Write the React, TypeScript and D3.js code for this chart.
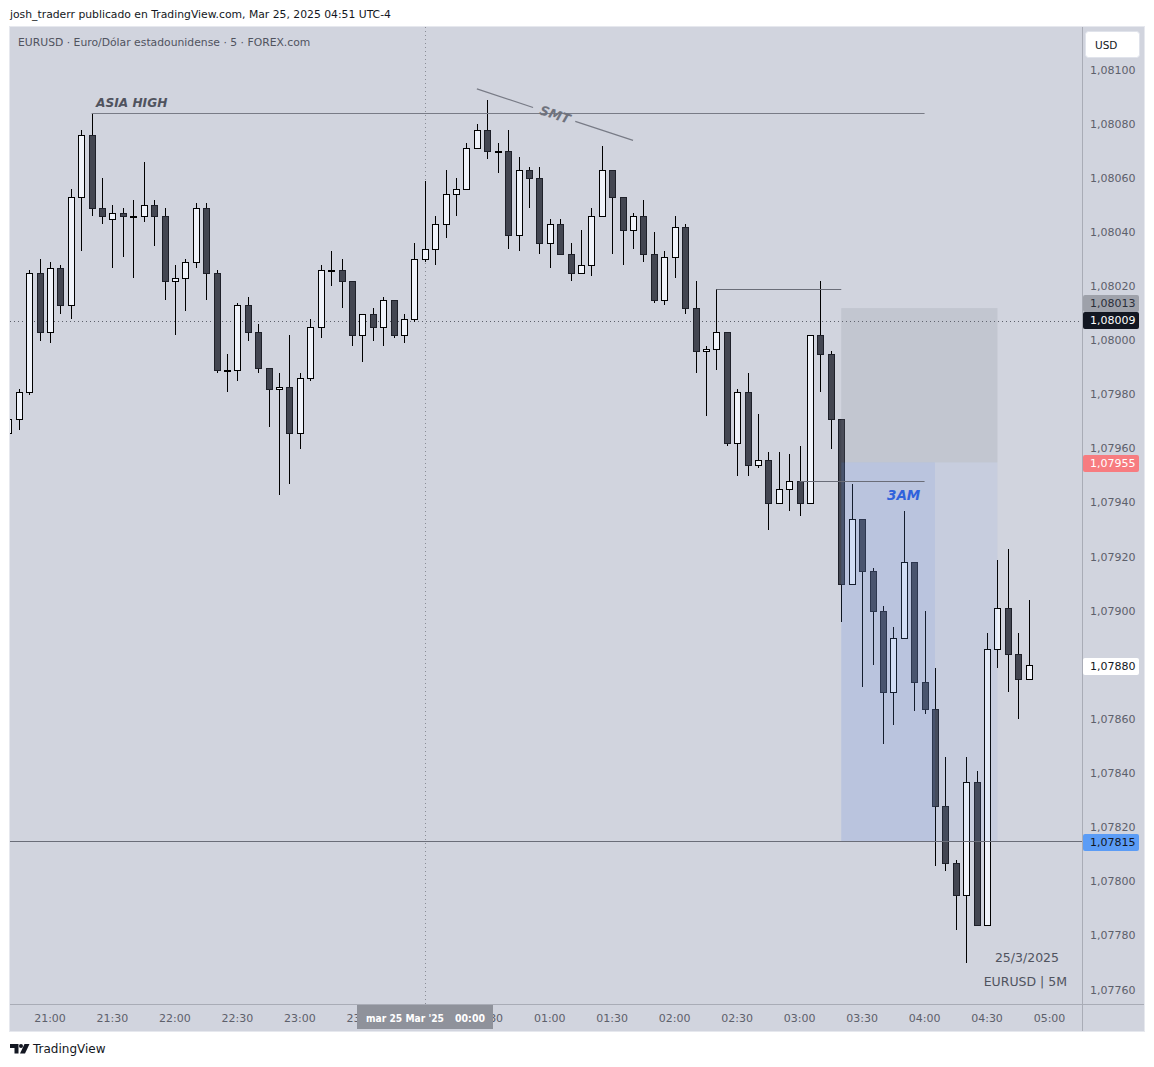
import React from 'react';
import * as d3 from 'd3';

// ---------- DATA ----------
const firstBarTime = new Date(2025, 2, 24, 20, 40); // first (partially visible) 5-minute bar
const opens = [
  1.07966, 1.07971, 1.07981, 1.08025, 1.08003, 1.08027, 1.08013, 1.08053, 1.08076, 1.08049,
  1.08045, 1.08047, 1.08046, 1.08046, 1.08050, 1.08046, 1.08022, 1.08023, 1.08029, 1.08049,
  1.08025, 1.07989, 1.07989, 1.08013, 1.08003, 1.07990, 1.07982, 1.07983, 1.07966, 1.07986,
  1.08005, 1.08026, 1.08026, 1.08022, 1.08002, 1.08010, 1.08005, 1.08015, 1.08002, 1.08008,
  1.08030, 1.08034, 1.08043, 1.08054, 1.08056, 1.08071, 1.08078, 1.08070, 1.08070, 1.08039,
  1.08063, 1.08060, 1.08036, 1.08043, 1.08032, 1.08025, 1.08028, 1.08046, 1.08063, 1.08053,
  1.08041, 1.08046, 1.08032, 1.08015, 1.08031, 1.08042, 1.08012, 1.07996, 1.07997, 1.08003,
  1.07962, 1.07981, 1.07954, 1.07956, 1.07940, 1.07945, 1.07948, 1.07940, 1.08002, 1.07995,
  1.07971, 1.07910, 1.07934, 1.07915, 1.07900, 1.07870, 1.07890, 1.07918, 1.07874, 1.07864,
  1.07828, 1.07807, 1.07795, 1.07837, 1.07784, 1.07886, 1.07901, 1.07884, 1.07875,
];
const highs = [
  1.07972, 1.07982, 1.08026, 1.08030, 1.08029, 1.08028, 1.08056, 1.08078, 1.08084, 1.08060,
  1.08050, 1.08049, 1.08052, 1.08066, 1.08052, 1.08049, 1.08028, 1.08030, 1.08051, 1.08051,
  1.08026, 1.07995, 1.08014, 1.08016, 1.08006, 1.07990, 1.07988, 1.08002, 1.07988, 1.08008,
  1.08028, 1.08033, 1.08030, 1.08022, 1.08010, 1.08012, 1.08016, 1.08015, 1.08010, 1.08036,
  1.08059, 1.08046, 1.08063, 1.08060, 1.08073, 1.08080, 1.08089, 1.08073, 1.08078, 1.08068,
  1.08064, 1.08064, 1.08045, 1.08045, 1.08036, 1.08041, 1.08049, 1.08072, 1.08063, 1.08053,
  1.08047, 1.08052, 1.08040, 1.08033, 1.08046, 1.08043, 1.08022, 1.07998, 1.08019, 1.08003,
  1.07982, 1.07988, 1.07973, 1.07959, 1.07959, 1.07958, 1.07961, 1.08002, 1.08022, 1.07996,
  1.07971, 1.07947, 1.07934, 1.07916, 1.07902, 1.07894, 1.07937, 1.07918, 1.07900, 1.07879,
  1.07846, 1.07808, 1.07846, 1.07841, 1.07892, 1.07919, 1.07923, 1.07892, 1.07904,
];
const lows = [
  1.07963, 1.07967, 1.07980, 1.08000, 1.07999, 1.08010, 1.08008, 1.08033, 1.08046, 1.08043,
  1.08027, 1.08031, 1.08023, 1.08044, 1.08035, 1.08015, 1.08002, 1.08011, 1.08027, 1.08015,
  1.07988, 1.07981, 1.07985, 1.08000, 1.07988, 1.07968, 1.07943, 1.07947, 1.07960, 1.07985,
  1.08001, 1.08020, 1.08012, 1.07998, 1.07992, 1.08000, 1.07998, 1.08001, 1.07999, 1.08007,
  1.08029, 1.08028, 1.08038, 1.08046, 1.08056, 1.08071, 1.08067, 1.08062, 1.08034, 1.08033,
  1.08049, 1.08032, 1.08027, 1.08032, 1.08022, 1.08025, 1.08024, 1.08046, 1.08032, 1.08028,
  1.08034, 1.08029, 1.08014, 1.08013, 1.08023, 1.08010, 1.07988, 1.07972, 1.07989, 1.07961,
  1.07950, 1.07950, 1.07953, 1.07930, 1.07940, 1.07937, 1.07935, 1.07940, 1.07981, 1.07960,
  1.07896, 1.07910, 1.07872, 1.07880, 1.07851, 1.07858, 1.07890, 1.07863, 1.07862, 1.07806,
  1.07804, 1.07782, 1.07770, 1.07784, 1.07784, 1.07879, 1.07870, 1.07860, 1.07875,
];
const closes = [
  1.07971, 1.07981, 1.08025, 1.08003, 1.08027, 1.08013, 1.08053, 1.08076, 1.08049, 1.08046,
  1.08047, 1.08046, 1.08046, 1.08050, 1.08046, 1.08022, 1.08023, 1.08029, 1.08049, 1.08025,
  1.07989, 1.07989, 1.08013, 1.08003, 1.07990, 1.07982, 1.07983, 1.07966, 1.07986, 1.08005,
  1.08026, 1.08026, 1.08022, 1.08002, 1.08010, 1.08005, 1.08015, 1.08002, 1.08008, 1.08030,
  1.08034, 1.08043, 1.08054, 1.08056, 1.08071, 1.08078, 1.08070, 1.08070, 1.08039, 1.08063,
  1.08060, 1.08036, 1.08043, 1.08032, 1.08025, 1.08028, 1.08046, 1.08063, 1.08053, 1.08041,
  1.08046, 1.08032, 1.08015, 1.08031, 1.08042, 1.08012, 1.07996, 1.07997, 1.08003, 1.07962,
  1.07981, 1.07954, 1.07956, 1.07940, 1.07945, 1.07948, 1.07940, 1.08002, 1.07995, 1.07971,
  1.07910, 1.07934, 1.07915, 1.07900, 1.07870, 1.07890, 1.07918, 1.07874, 1.07864, 1.07828,
  1.07807, 1.07795, 1.07837, 1.07784, 1.07886, 1.07901, 1.07884, 1.07875, 1.07880,
];

const priceTicks = [1.0776, 1.0778, 1.078, 1.0782, 1.0784, 1.0786, 1.0788, 1.079, 1.0792, 1.0794, 1.0796, 1.0798, 1.08, 1.0802, 1.0804, 1.0806, 1.0808, 1.081];
const timeTicks = ['21:00', '21:30', '22:00', '22:30', '23:00', '23:30', '25', '00:30', '01:00', '01:30', '02:00', '02:30', '03:00', '03:30', '04:00', '04:30', '05:00'];
const timeTickStart = new Date(2025, 2, 24, 21, 0);

// annotations (bar index, price)
const asiaHigh = { from: 8, to: 88, price: 1.08084 };
const smt = { from: 45, p0: 1.08093, to: 60, p1: 1.08074 };
const level1 = { from: 68, to: 80, price: 1.08019 };
const level3am = { from: 76, to: 88, price: 1.07948 };
const position = { from: 80, mid: 89, to: 95, stop: 1.08012, entry: 1.07955, target: 1.07815 };
const fullLine = 1.07815;
const crosshair = { bar: 40, price: 1.08009 };
const priceLabels = [
  { price: 1.08013, bg: '#9ea1aa', fg: '#2a2e39' },
  { price: 1.08009, bg: '#131722', fg: '#ffffff' },
  { price: 1.07955, bg: '#f77c80', fg: '#ffffff' },
  { price: 1.0788, bg: '#ffffff', fg: '#131722' },
  { price: 1.07815, bg: '#5b9cf6', fg: '#131722' },
];

// ---------- LAYOUT ----------
const W = 1154;
const H = 1067;
const L = 10, R = 1082, T = 27, B = 1004, AXR = 1144, AXB = 1031;
const FONT = '"DejaVu Sans", sans-serif';
const LABEL_H = 17;

const fmt = (p: number) => d3.format('.5f')(p).replace('.', ',');

// push overlapping axis labels apart (like the price scale does)
function layoutLabels(ys: number[]): number[] {
  const idx = ys.map((v, i) => i).sort((a, b) => ys[a] - ys[b]);
  const out = ys.slice();
  for (let k = 1; k < idx.length; k++) {
    const a = idx[k - 1], b = idx[k];
    if (out[b] - out[a] < LABEL_H) {
      const mid = (out[a] + out[b]) / 2;
      out[a] = mid - LABEL_H / 2;
      out[b] = mid + LABEL_H / 2;
    }
  }
  return out;
}

export default function App() {
  const y = d3.scaleLinear().domain([1.0776, 1.081]).range([990, 70]);
  const x = d3
    .scaleTime()
    .domain([timeTickStart, d3.timeMinute.offset(timeTickStart, 480)])
    .range([50, 1049.5]);
  const barTime = (i: number) => d3.timeMinute.offset(firstBarTime, 5 * i);
  const bx = (i: number) => x(barTime(i));

  const bars = opens.map((o, i) => ({ t: barTime(i), o, h: highs[i], l: lows[i], c: closes[i] }));

  const labelYs = layoutLabels(priceLabels.map((lb) => y(lb.price) + 1.2));
  const crossLabelY = labelYs[priceLabels.findIndex((lb) => lb.price === crosshair.price)];

  const smtX0 = bx(smt.from), smtX1 = bx(smt.to);
  const smtY0 = y(smt.p0), smtY1 = y(smt.p1);
  const lerp = (a: number, b: number, t: number) => a + (b - a) * t;
  const smtAngle = (Math.atan2(smtY1 - smtY0, smtX1 - smtX0) * 180) / Math.PI;
  const smtMx = lerp(smtX0, smtX1, 0.5), smtMy = lerp(smtY0, smtY1, 0.5);
  const hy = (p: number) => Math.round(y(p)) + 0.5;

  return (
    <svg width={W} height={H} style={{ display: 'block', position: 'absolute', left: 0, top: 0 }}>
      <rect x={0} y={0} width={W} height={H} fill="#ffffff" />
      <text x={10} y={18} fontFamily={FONT} fontSize={10.8} fill="#131722">
        josh_traderr publicado en TradingView.com, Mar 25, 2025 04:51 UTC-4
      </text>
      <defs>
        <clipPath id="plot">
          <rect x={L} y={T} width={R - L} height={B - T} />
        </clipPath>
      </defs>
      {/* chart frame */}
      <rect x={L - 0.5} y={T - 0.5} width={AXR - L + 1} height={AXB - T + 1} fill="#d1d4de" stroke="#e6e8ee" />
      <line x1={R + 0.5} x2={R + 0.5} y1={T} y2={AXB} stroke="#a9acb6" />
      <line x1={L} x2={AXR} y1={B + 0.5} y2={B + 0.5} stroke="#a9acb6" />

      <text x={18} y={46} fontFamily={FONT} fontSize={10.8} fill="#50535e">
        EURUSD · Euro/Dólar estadounidense · 5 · FOREX.com
      </text>

      <g clipPath="url(#plot)">
        {/* crosshair */}
        <line x1={L} x2={R} y1={Math.round(crossLabelY) + 0.5} y2={Math.round(crossLabelY) + 0.5} stroke="#5d606b" strokeDasharray="1 3" />
        <line x1={Math.round(bx(crosshair.bar)) + 0.5} x2={Math.round(bx(crosshair.bar)) + 0.5} y1={T} y2={B} stroke="#8a8d96" strokeDasharray="1 3" />

        {/* candles */}
        {bars.map((d, i) => {
          const cx = Math.round(bx(i));
          const up = d.c >= d.o;
          const top = Math.round(y(Math.max(d.o, d.c)));
          const bot = Math.round(y(Math.min(d.o, d.c)));
          const bh = Math.max(bot - top, 1);
          return (
            <g key={i}>
              <line x1={cx + 0.5} x2={cx + 0.5} y1={Math.round(y(d.h))} y2={Math.round(y(d.l))} stroke="#000000" />
              <rect
                x={cx - 3 + 0.5}
                y={top + 0.5}
                width={6}
                height={bh}
                fill={up ? '#f0f3fa' : '#434651'}
                stroke={up ? '#000000' : '#1e2029'}
              />
            </g>
          );
        })}

        {/* position tool */}
        <rect x={bx(position.from)} y={y(position.stop)} width={bx(position.to) - bx(position.from)} height={y(position.entry) - y(position.stop)} fill="rgba(120,122,138,0.16)" />
        <rect x={bx(position.from)} y={y(position.entry)} width={bx(position.to) - bx(position.from)} height={y(position.target) - y(position.entry)} fill="rgba(100,140,225,0.09)" />
        <rect x={bx(position.from)} y={y(position.entry)} width={bx(position.mid) - bx(position.from)} height={y(position.target) - y(position.entry)} fill="rgba(100,140,225,0.13)" />

        {/* horizontal levels */}
        <line x1={bx(asiaHigh.from)} x2={bx(asiaHigh.to)} y1={hy(asiaHigh.price)} y2={hy(asiaHigh.price)} stroke="#787b86" />
        <line x1={bx(level1.from)} x2={bx(level1.to)} y1={hy(level1.price)} y2={hy(level1.price)} stroke="#6a6d78" />
        <line x1={bx(level3am.from)} x2={bx(level3am.to)} y1={hy(level3am.price)} y2={hy(level3am.price)} stroke="#6a6d78" />
        <line x1={L} x2={R} y1={hy(fullLine)} y2={hy(fullLine)} stroke="#6a6d78" />

        {/* SMT */}
        <line x1={smtX0} y1={smtY0} x2={lerp(smtX0, smtX1, 0.36)} y2={lerp(smtY0, smtY1, 0.36)} stroke="#787b86" strokeWidth={1.2} />
        <line x1={lerp(smtX0, smtX1, 0.63)} y1={lerp(smtY0, smtY1, 0.63)} x2={smtX1} y2={smtY1} stroke="#787b86" strokeWidth={1.2} />
        <text
          x={smtMx}
          y={smtMy}
          transform={`rotate(${smtAngle} ${smtMx} ${smtMy})`}
          textAnchor="middle"
          dominantBaseline="central"
          fontFamily={FONT}
          fontSize={13}
          fontStyle="italic"
          fontWeight="bold"
          fill="#6f727d"
        >
          SMT
        </text>

        <text x={96} y={107} fontFamily={FONT} fontSize={12.2} fontStyle="italic" fontWeight="bold" fill="#50535e">
          ASIA HIGH
        </text>
        <text x={887} y={500} fontFamily={FONT} fontSize={13.5} fontStyle="italic" fontWeight="bold" fill="#2f62dc">
          3AM
        </text>

        <text x={1059} y={962} textAnchor="end" fontFamily={FONT} fontSize={12.5} fill="#50535e">
          25/3/2025
        </text>
        <text x={1067} y={986} textAnchor="end" fontFamily={FONT} fontSize={12.5} fill="#50535e">
          EURUSD | 5M
        </text>
      </g>

      {/* price axis */}
      {priceTicks.map((p) => (
        <text key={p} x={1090} y={y(p)} dominantBaseline="central" fontFamily={FONT} fontSize={11} fill="#5d606b">
          {fmt(p)}
        </text>
      ))}
      {priceLabels.map((lb, i) => (
        <g key={lb.price}>
          <rect x={R + 1} y={Math.round(labelYs[i] - LABEL_H / 2)} width={56} height={LABEL_H} rx={2} fill={lb.bg} />
          <text x={1090} y={Math.round(labelYs[i] - LABEL_H / 2) + LABEL_H / 2} dominantBaseline="central" fontFamily={FONT} fontSize={11} fill={lb.fg}>
            {fmt(lb.price)}
          </text>
        </g>
      ))}
      <rect x={1085.5} y={31.5} width={54} height={26} rx={3} fill="#ffffff" stroke="#e0e3eb" />
      <text x={1095} y={44.5} dominantBaseline="central" fontFamily={FONT} fontSize={10.5} fill="#131722">
        USD
      </text>

      {/* time axis */}
      {timeTicks.map((lb, i) => (
        <text key={lb} x={x(d3.timeMinute.offset(timeTickStart, 30 * i))} y={1018} textAnchor="middle" dominantBaseline="central" fontFamily={FONT} fontSize={11} fill="#5d606b">
          {lb}
        </text>
      ))}
      <rect x={357} y={1005} width={136} height={24} fill="#8f929b" />
      <text x={366} y={1018} dominantBaseline="central" fontFamily={FONT} fontSize={11} fontWeight="bold" fill="#ffffff" textLength={78} lengthAdjust="spacingAndGlyphs">
        mar 25 Mar '25
      </text>
      <text x={455} y={1018} dominantBaseline="central" fontFamily={FONT} fontSize={11} fontWeight="bold" fill="#ffffff" textLength={30} lengthAdjust="spacingAndGlyphs">
        00:00
      </text>

      {/* footer logo */}
      <path d="M10 1044 h8.5 v9.5 h-4 v-5.5 h-4.5 z" fill="#131722" />
      <circle cx={21} cy={1046} r={2} fill="#131722" />
      <path d="M24.5 1044 h5 l-4.5 9.5 h-5 z" fill="#131722" />
      <text x={33} y={1053} fontFamily={FONT} fontSize={12} fill="#131722">
        TradingView
      </text>
    </svg>
  );
}
